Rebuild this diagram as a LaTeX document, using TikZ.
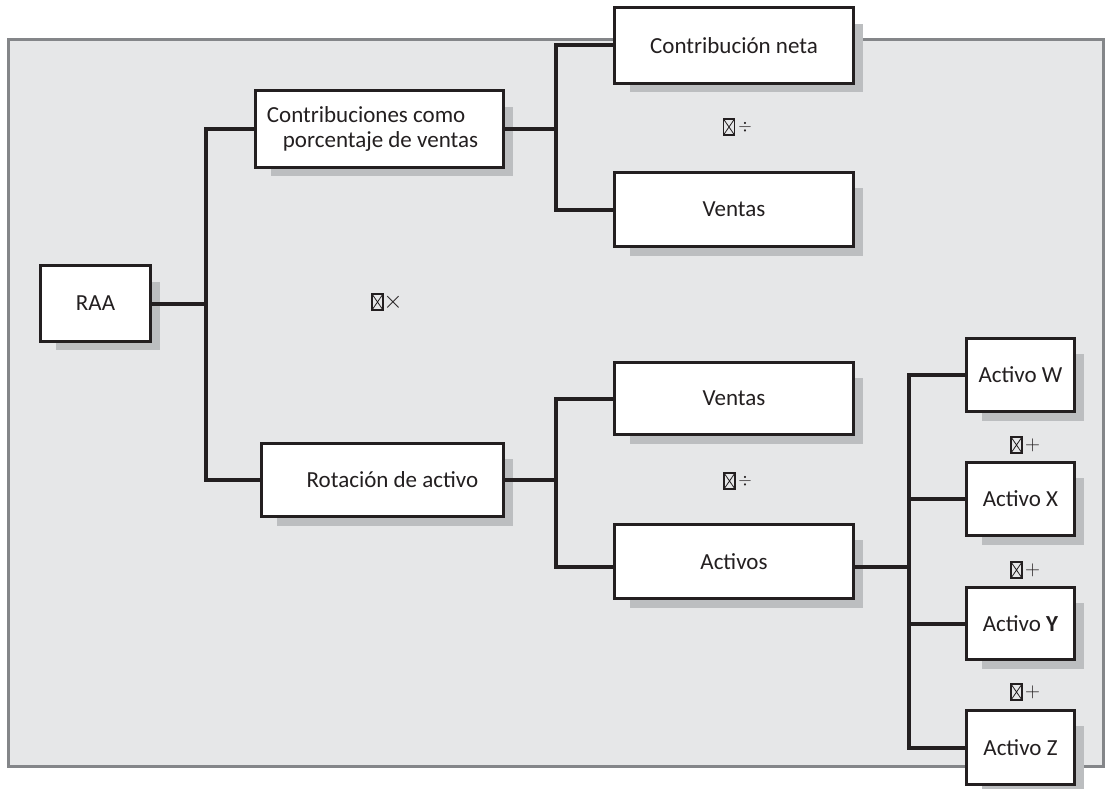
\documentclass[tikz,border=0pt]{standalone}
\usepackage{fontspec}
\usetikzlibrary{calc}
\setmainfont{Carlito}
\definecolor{ink}{HTML}{231F20}
\definecolor{panelgray}{HTML}{E6E7E8}
\definecolor{panelline}{HTML}{848689}
\definecolor{shadowgray}{HTML}{BCBEC0}
\begin{document}
\begin{tikzpicture}[x=1pt,y=-1pt,
  box/.style={draw=ink,line width=3pt,fill=white,minimum width=#1,minimum height=76pt,inner sep=0pt,
    font=\fontsize{23}{25}\selectfont,text=ink},
  box/.default=240pt,
  link/.style={draw=ink,line width=4pt},
  sign/.style={font=\fontsize{#1}{#1}\selectfont,text=ink,inner sep=0pt},
  notdef/.pic={\draw[ink,line width=1.4pt] (-5.5,-8) rectangle (5.5,8);
               \draw[ink,line width=0.8pt] (-5.5,-8)--(5.5,8) (-5.5,8)--(5.5,-8);}]
\useasboundingbox (0,0) rectangle (1116,789);
% panel
\draw[fill=panelgray,draw=panelline,line width=3pt] (8,40) rectangle (1103,766);
% shadows
\foreach \a/\b/\c/\d in {39/265/152/342, 254/90/505/168, 613/7/855/84, 613/171/855/248,
  260/442/505/518, 613/361/855/436, 613/523/855/600,
  965/337/1076/413, 965/461/1076/537, 965/586/1076/661, 965/709/1076/786}
  \fill[shadowgray] (\a+17,\b+17) rectangle (\c+8,\d+8);
% boxes
\node[box=110pt] (raa) at (95.5,303.5) {RAA};
\node[box=248pt,align=left] (cont) at (379.5,129) {Contribuciones como\\\hspace*{16pt}porcentaje de ventas\hspace*{14pt}};
\node[box=239pt] (cn) at (734,45.5) {Contribución neta};
\node[box=239pt,minimum height=74pt] (v1) at (734,209.5) {Ventas};
\node[box=242pt,minimum height=73pt] (rot) at (382.5,480) {\hspace*{20pt}Rotación de activo};
\node[box=239pt,minimum height=72pt] (v2) at (734,398.5) {Ventas};
\node[box=239pt,minimum height=74pt] (act) at (734,561.5) {Activos};
\node[box=108pt,minimum height=73pt] (w) at (1020.5,375) {Activo W};
\node[box=108pt,minimum height=73pt] (ax) at (1020.5,499) {Activo X};
\node[box=108pt,minimum height=72pt] (ay) at (1020.5,623.5) {Activo \textbf{Y}};
\node[box=108pt,minimum height=74pt] (az) at (1020.5,747.5) {Activo Z};
% trunk coordinates
\coordinate (t1) at (206,0);
\coordinate (t2) at (556,0);
\coordinate (t3) at (909,0);
% connectors
\draw[link] (raa.east) -- (raa.east -| t1);
\draw[link] (cont.west) -- (cont.west -| t1) -- (rot.west -| t1) -- (rot.west);
\draw[link] (cont.east) -- (cont.east -| t2);
\draw[link] (cn.west) -- (cn.west -| t2) -- (v1.west -| t2) -- (v1.west);
\draw[link] (rot.east) -- (rot.east -| t2);
\draw[link] (v2.west) -- (v2.west -| t2) -- ($(act.west -| t2)+(0,5)$) -- ($(act.west)+(0,5)$);
\draw[link] ($(act.east)+(0,5)$) -- ($(act.east -| t3)+(0,5)$);
\draw[link] (w.west) -- (w.west -| t3) -- (az.west -| t3) -- (az.west);
\draw[link] (ax.west) -- (ax.west -| t3);
\draw[link] (ay.west) -- (ay.west -| t3);
% operators
\pic at (729,127) {notdef};
\node[sign=19] (op1) at (745,127) {$\div$};
\pic at (377.5,302) {notdef};
\node[sign=24] (op2) at (393,302) {$\times$};
\pic at (729.5,481) {notdef};
\node[sign=19] (op3) at (745,481) {$\div$};
\pic at (1016.5,445) {notdef};
\node[sign=20] (op4) at (1032.5,445) {$+$};
\pic at (1016.5,570) {notdef};
\node[sign=20] (op5) at (1032.5,570) {$+$};
\pic at (1016.5,692) {notdef};
\node[sign=20] (op6) at (1032.5,692) {$+$};
\end{tikzpicture}
\end{document}
